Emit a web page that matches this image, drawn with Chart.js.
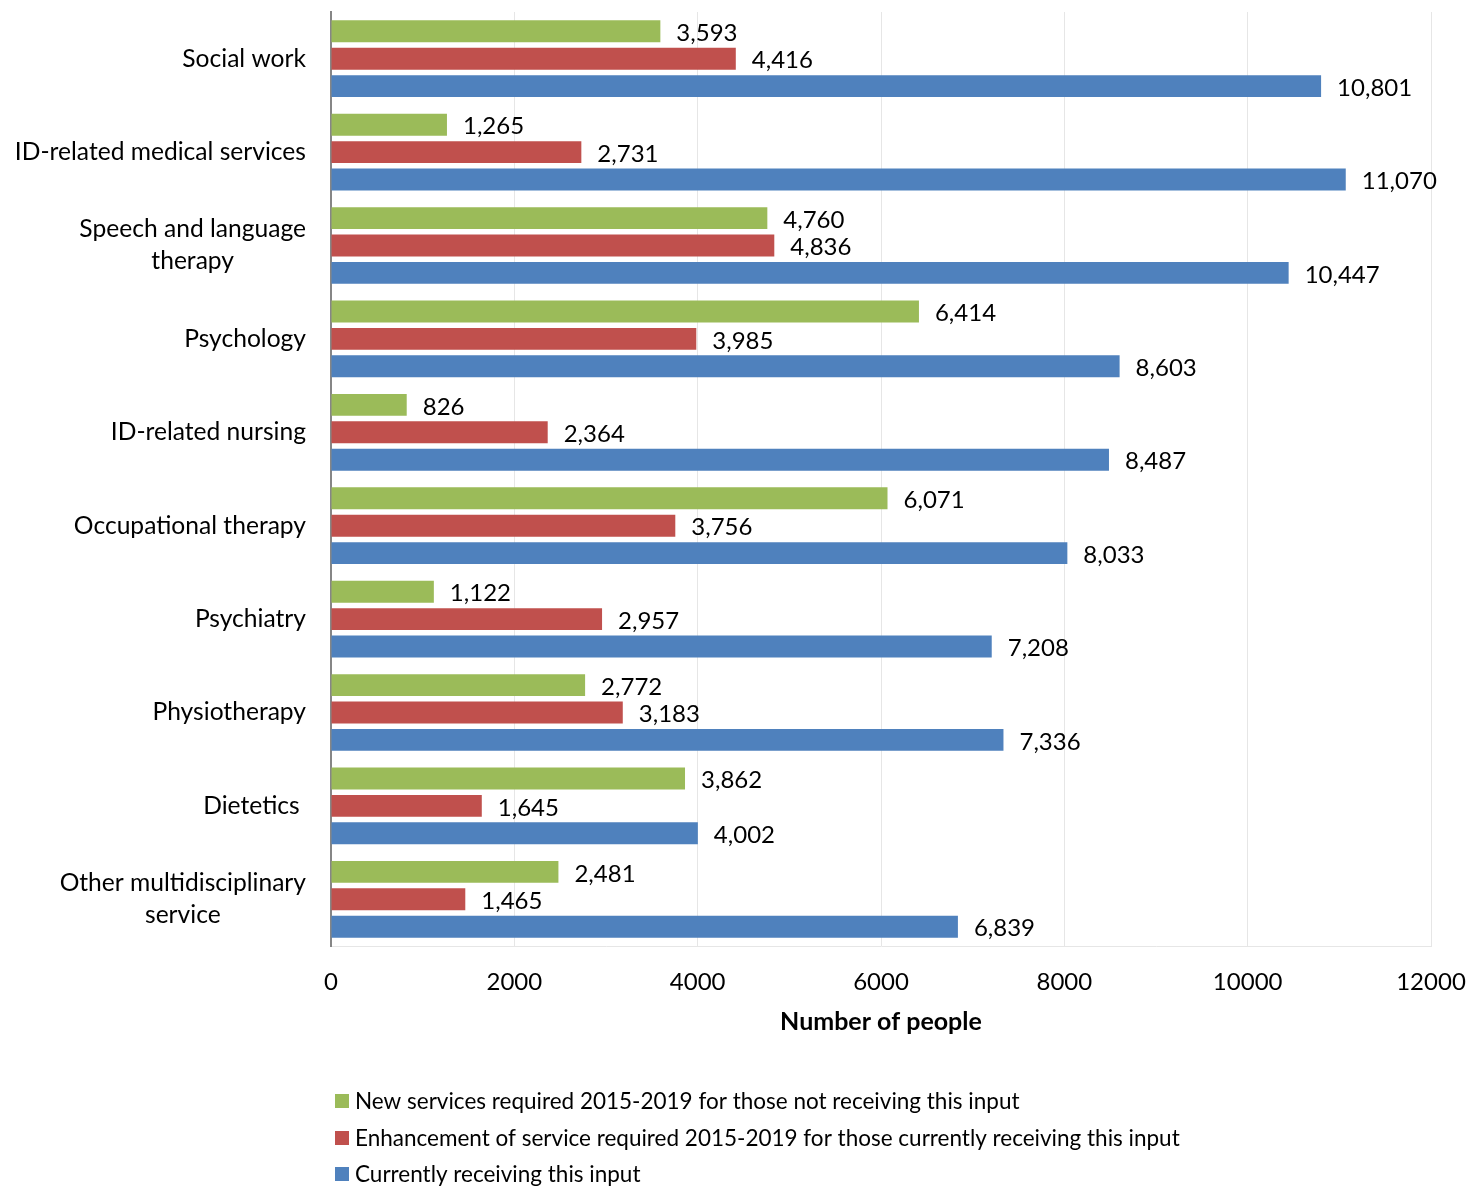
<!DOCTYPE html>
<html><head><meta charset="utf-8">
<script src="https://cdn.jsdelivr.net/npm/chart.js@4/dist/chart.umd.min.js"></script>
<style>html,body{margin:0;padding:0;background:#fff;}#wrap{width:1470px;height:1187px;position:relative}</style>
</head><body><div id="wrap"><canvas id="c" width="1470" height="1187"></canvas></div>
<script>
const categories = [["Social work"],["ID-related medical services"],["Speech and language","therapy"],["Psychology"],["ID-related nursing"],["Occupational therapy"],["Psychiatry"],["Physiotherapy"],["Dietetics "],["Other multidisciplinary","service"]];
const seriesNames = ["New services required 2015-2019 for those not receiving this input","Enhancement of service required 2015-2019 for those currently receiving this input","Currently receiving this input"];
const newServices = [3593,1265,4760,6414,826,6071,1122,2772,3862,2481];
const enhancement = [4416,2731,4836,3985,2364,3756,2957,3183,1645,1465];
const currentlyReceiving = [10801,11070,10447,8603,8487,8033,7208,7336,4002,6839];
const xTickValues = [0,2000,4000,6000,8000,10000,12000];
const xAxisTitle = "Number of people";
const colors = ["#9BBB59","#C0504D","#4F81BD"];

const FONT = "Lato";
const FS = 24;

const yLabelPlugin = {
  id: 'yLabels',
  afterDraw(chart) {
    const ctx = chart.ctx, ys = chart.scales.y;
    ctx.save();
    ctx.font = "24.6px " + FONT;
    ctx.fillStyle = "#000";
    ctx.textAlign = "center";
    ctx.textBaseline = "middle";
    const right = ys.right - 25, lh = 32;
    chart.data.labels.forEach((lab, i) => {
      const lines = Array.isArray(lab) ? lab : [lab];
      const w = Math.max(...lines.map(l => ctx.measureText(l).width));
      const cx = right - w / 2;
      const cy = ys.getPixelForTick(i);
      const y0 = cy - (lines.length - 1) * lh / 2;
      lines.forEach((l, k) => ctx.fillText(l, cx, y0 + k * lh));
    });
    ctx.restore();
  }
};

const dataLabelPlugin = {
  id: 'dataLabels',
  afterDatasetsDraw(chart) {
    const ctx = chart.ctx;
    ctx.save();
    ctx.font = FS + "px " + FONT;
    ctx.fillStyle = "#000";
    ctx.textAlign = "left";
    ctx.textBaseline = "middle";
    chart.data.datasets.forEach((ds, di) => {
      chart.getDatasetMeta(di).data.forEach((el, i) => {
        ctx.fillText(ds.data[i].toLocaleString('en-US'), el.x + 16, el.y + 2);
      });
    });
    ctx.restore();
  }
};

const legendPlugin = {
  id: 'customLegend',
  afterDraw(chart) {
    const ctx = chart.ctx;
    ctx.save();
    ctx.font = "22.5px " + FONT;
    ctx.textAlign = "left";
    ctx.textBaseline = "middle";
    const rows = [1101, 1138, 1174];
    chart.data.datasets.forEach((ds, di) => {
      const y = rows[di];
      ctx.fillStyle = ds.backgroundColor;
      ctx.fillRect(335, y - 7, 14, 14);
      ctx.fillStyle = "#000";
      ctx.fillText(ds.label, 355, y + 1);
    });
    ctx.restore();
  }
};

function build() {
  Chart.defaults.font.family = FONT;
  Chart.defaults.font.size = FS;
  Chart.defaults.color = "#000";
  new Chart(document.getElementById('c'), {
    type: 'bar',
    data: {
      labels: categories,
      datasets: [
        { label: seriesNames[0], data: newServices, backgroundColor: colors[0] },
        { label: seriesNames[1], data: enhancement, backgroundColor: colors[1] },
        { label: seriesNames[2], data: currentlyReceiving, backgroundColor: colors[2] }
      ]
    },
    options: {
      indexAxis: 'y',
      responsive: false,
      animation: false,
      devicePixelRatio: 1,
      categoryPercentage: 0.88,
      barPercentage: 0.8,
      layout: { padding: { top: 12, right: 39, bottom: 0, left: 0 } },
      plugins: { legend: { display: false }, tooltip: { enabled: false } },
      scales: {
        x: {
          min: 0, max: 12000,
          afterBuildTicks(s) { s.ticks = xTickValues.map(v => ({ value: v })); },
          afterFit(s) { s.height = 241; s.paddingLeft = 0; s.paddingRight = 0; },
          ticks: { padding: 22, callback: v => String(v), font: { size: FS } },
          grid: { color: "#E6E6E6", lineWidth: 1, drawTicks: false },
          border: { color: "#E6E6E6", width: 1 },
          title: { display: true, text: xAxisTitle, font: { size: 25, weight: 'bold' }, padding: { top: 0, bottom: 150 } }
        },
        y: {
          afterFit(s) { s.width = 331; s.paddingTop = 0; s.paddingBottom = 0; },
          ticks: { display: false },
          grid: { display: false, drawTicks: false },
          border: { color: "#868686", width: 2 }
        }
      }
    },
    plugins: [yLabelPlugin, dataLabelPlugin, legendPlugin]
  });
}
if (document.fonts && document.fonts.load) {
  Promise.all([document.fonts.load(FS + "px " + FONT), document.fonts.load("bold " + FS + "px " + FONT)]).then(build, build);
} else build();
</script></body></html>
